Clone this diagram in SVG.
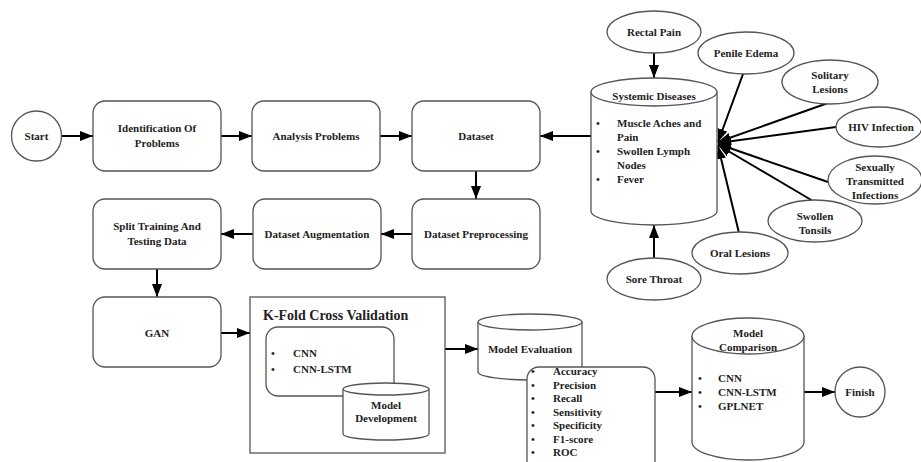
<svg xmlns="http://www.w3.org/2000/svg" width="921" height="462" viewBox="0 0 921 462">
<defs>
<marker id="ah" markerUnits="userSpaceOnUse" markerWidth="14" markerHeight="12" refX="13" refY="6" orient="auto">
<path d="M0,1 L13,6 L0,11 Z" fill="#000"/>
</marker>
<style>
.s{fill:#fff;stroke:#555;stroke-width:1.3}
.t{font-family:"Liberation Serif","Times New Roman",serif;font-weight:bold;font-size:11px;fill:#222;text-anchor:middle}
.l{font-family:"Liberation Serif","Times New Roman",serif;font-weight:bold;font-size:11px;fill:#222}
.c{stroke:#000;stroke-width:2;fill:none;marker-end:url(#ah)}
</style>
</defs>
<rect width="921" height="462" fill="#fff"/>

<g id="connectors">
<line class="c" x1="61" y1="136" x2="93" y2="136"/>
<line class="c" x1="221" y1="136" x2="252" y2="136"/>
<line class="c" x1="380" y1="136" x2="412" y2="136"/>
<line class="c" x1="591" y1="136" x2="540" y2="136"/>
<line class="c" x1="476" y1="170" x2="476" y2="199"/>
<line class="c" x1="412" y1="234" x2="381" y2="234"/>
<line class="c" x1="253" y1="234" x2="221" y2="234"/>
<line class="c" x1="157" y1="269" x2="157" y2="297"/>
<line class="c" x1="221" y1="333" x2="250" y2="333"/>
<line class="c" x1="445" y1="349" x2="478" y2="349"/>
<line class="c" x1="655" y1="392" x2="692" y2="392"/>
<line class="c" x1="804" y1="392" x2="835" y2="392"/>
<line class="c" x1="654" y1="53" x2="654" y2="78"/>
<line class="c" x1="654" y1="258" x2="654" y2="225"/>
<line class="c" x1="743" y1="74" x2="718" y2="142"/>
<line class="c" x1="828" y1="103" x2="718" y2="142"/>
<line class="c" x1="836" y1="127" x2="718" y2="143"/>
<line class="c" x1="828" y1="182" x2="718" y2="144"/>
<line class="c" x1="813" y1="201" x2="718" y2="145"/>
<line class="c" x1="739" y1="233" x2="718" y2="146"/>
</g>

<g id="start"><circle class="s" cx="36.5" cy="136" r="25"/><text class="t" x="36.5" y="140">Start</text></g>
<g id="identification"><rect class="s" x="93" y="101" width="128" height="70" rx="12"/><text class="t" x="157" y="132">Identification Of</text><text class="t" x="157" y="147">Problems</text></g>
<g id="analysis"><rect class="s" x="252" y="101" width="128" height="70" rx="12"/><text class="t" x="316" y="140">Analysis Problems</text></g>
<g id="dataset"><rect class="s" x="412" y="101" width="128" height="70" rx="12"/><text class="t" x="476" y="140">Dataset</text></g>
<g id="preprocessing"><rect class="s" x="412" y="199" width="128" height="70" rx="12"/><text class="t" x="476" y="238">Dataset Preprocessing</text></g>
<g id="augmentation"><rect class="s" x="253" y="199" width="128" height="70" rx="12"/><text class="t" x="317" y="238">Dataset Augmentation</text></g>
<g id="split"><rect class="s" x="93" y="199" width="128" height="70" rx="12"/><text class="t" x="157" y="230">Split Training And</text><text class="t" x="157" y="245">Testing Data</text></g>
<g id="gan"><rect class="s" x="93" y="297" width="128" height="70" rx="12"/><text class="t" x="157" y="337">GAN</text></g>

<g id="kfold">
<rect class="s" x="250" y="297" width="195" height="156"/>
<text class="l" x="263" y="320" style="font-size:14px">K-Fold Cross Validation</text>
<rect class="s" x="266" y="327" width="128" height="69" rx="12"/>
<text class="l" x="271" y="357">•</text><text class="l" x="293" y="357">CNN</text>
<text class="l" x="271" y="373">•</text><text class="l" x="293" y="373">CNN-LSTM</text>
</g>
<g id="model-development">
<path class="s" d="M343,389 V434 A43,6 0 0 0 429,434 V389"/>
<ellipse class="s" cx="386" cy="389" rx="43" ry="6"/>
<text class="t" x="386" y="409">Model</text><text class="t" x="386" y="422">Development</text>
</g>

<g id="systemic">
<path class="s" d="M591,92 V211 A63,14 0 0 0 717,211 V92"/>
<ellipse class="s" cx="654" cy="92" rx="63" ry="14"/>
<text class="t" x="654" y="100">Systemic Diseases</text>
<text class="l" x="596" y="127">•</text><text class="l" x="617" y="127">Muscle Aches and</text>
<text class="l" x="617" y="141">Pain</text>
<text class="l" x="596" y="155">•</text><text class="l" x="617" y="155">Swollen Lymph</text>
<text class="l" x="617" y="169">Nodes</text>
<text class="l" x="596" y="183">•</text><text class="l" x="617" y="183">Fever</text>
</g>

<g id="rectal"><ellipse class="s" cx="654" cy="32" rx="47" ry="21"/><text class="t" x="654" y="36">Rectal Pain</text></g>
<g id="penile"><ellipse class="s" cx="746" cy="53" rx="48" ry="21"/><text class="t" x="746" y="57">Penile Edema</text></g>
<g id="solitary"><ellipse class="s" cx="830" cy="82" rx="48" ry="22"/><text class="t" x="830" y="79">Solitary</text><text class="t" x="830" y="93">Lesions</text></g>
<g id="hiv"><ellipse class="s" cx="879" cy="127" rx="43" ry="20"/><text class="t" x="881" y="131">HIV Infection</text></g>
<g id="sti"><ellipse class="s" cx="875" cy="180" rx="47" ry="24"/><text class="t" x="875" y="171">Sexually</text><text class="t" x="875" y="185">Transmitted</text><text class="t" x="875" y="199">Infections</text></g>
<g id="tonsils"><ellipse class="s" cx="815" cy="221" rx="47" ry="21"/><text class="t" x="815" y="220">Swollen</text><text class="t" x="815" y="234">Tonsils</text></g>
<g id="oral"><ellipse class="s" cx="740" cy="253" rx="48" ry="21"/><text class="t" x="740" y="257">Oral Lesions</text></g>
<g id="sore"><ellipse class="s" cx="654" cy="279" rx="47" ry="21"/><text class="t" x="654" y="283">Sore Throat</text></g>

<g id="model-evaluation">
<path class="s" d="M478,322 V372 A52,8 0 0 0 582,372 V322"/>
<ellipse class="s" cx="530" cy="322" rx="52" ry="8"/>
<text class="t" x="530" y="353">Model Evaluation</text>
</g>
<g id="metrics">
<rect class="s" x="527" y="367" width="128" height="110" rx="12"/>
<text class="l" x="531" y="375">•</text><text class="l" x="553" y="375">Accuracy</text>
<text class="l" x="531" y="389">•</text><text class="l" x="553" y="389">Precision</text>
<text class="l" x="531" y="402">•</text><text class="l" x="553" y="402">Recall</text>
<text class="l" x="531" y="416">•</text><text class="l" x="553" y="416">Sensitivity</text>
<text class="l" x="531" y="429">•</text><text class="l" x="553" y="429">Specificity</text>
<text class="l" x="531" y="443">•</text><text class="l" x="553" y="443">F1-score</text>
<text class="l" x="531" y="456">•</text><text class="l" x="553" y="456">ROC</text>
</g>

<g id="model-comparison">
<path class="s" d="M692,336 V442 A56,18 0 0 0 804,442 V336"/>
<ellipse class="s" cx="748" cy="336" rx="56" ry="18"/>
<text class="t" x="748" y="337">Model</text><text class="t" x="748" y="351">Comparison</text>
<text class="l" x="698" y="382">•</text><text class="l" x="718" y="382">CNN</text>
<text class="l" x="698" y="396">•</text><text class="l" x="718" y="396">CNN-LSTM</text>
<text class="l" x="698" y="410">•</text><text class="l" x="718" y="410">GPLNET</text>
</g>
<g id="finish"><circle class="s" cx="860" cy="392" r="25"/><text class="t" x="860" y="396">Finish</text></g>
</svg>
